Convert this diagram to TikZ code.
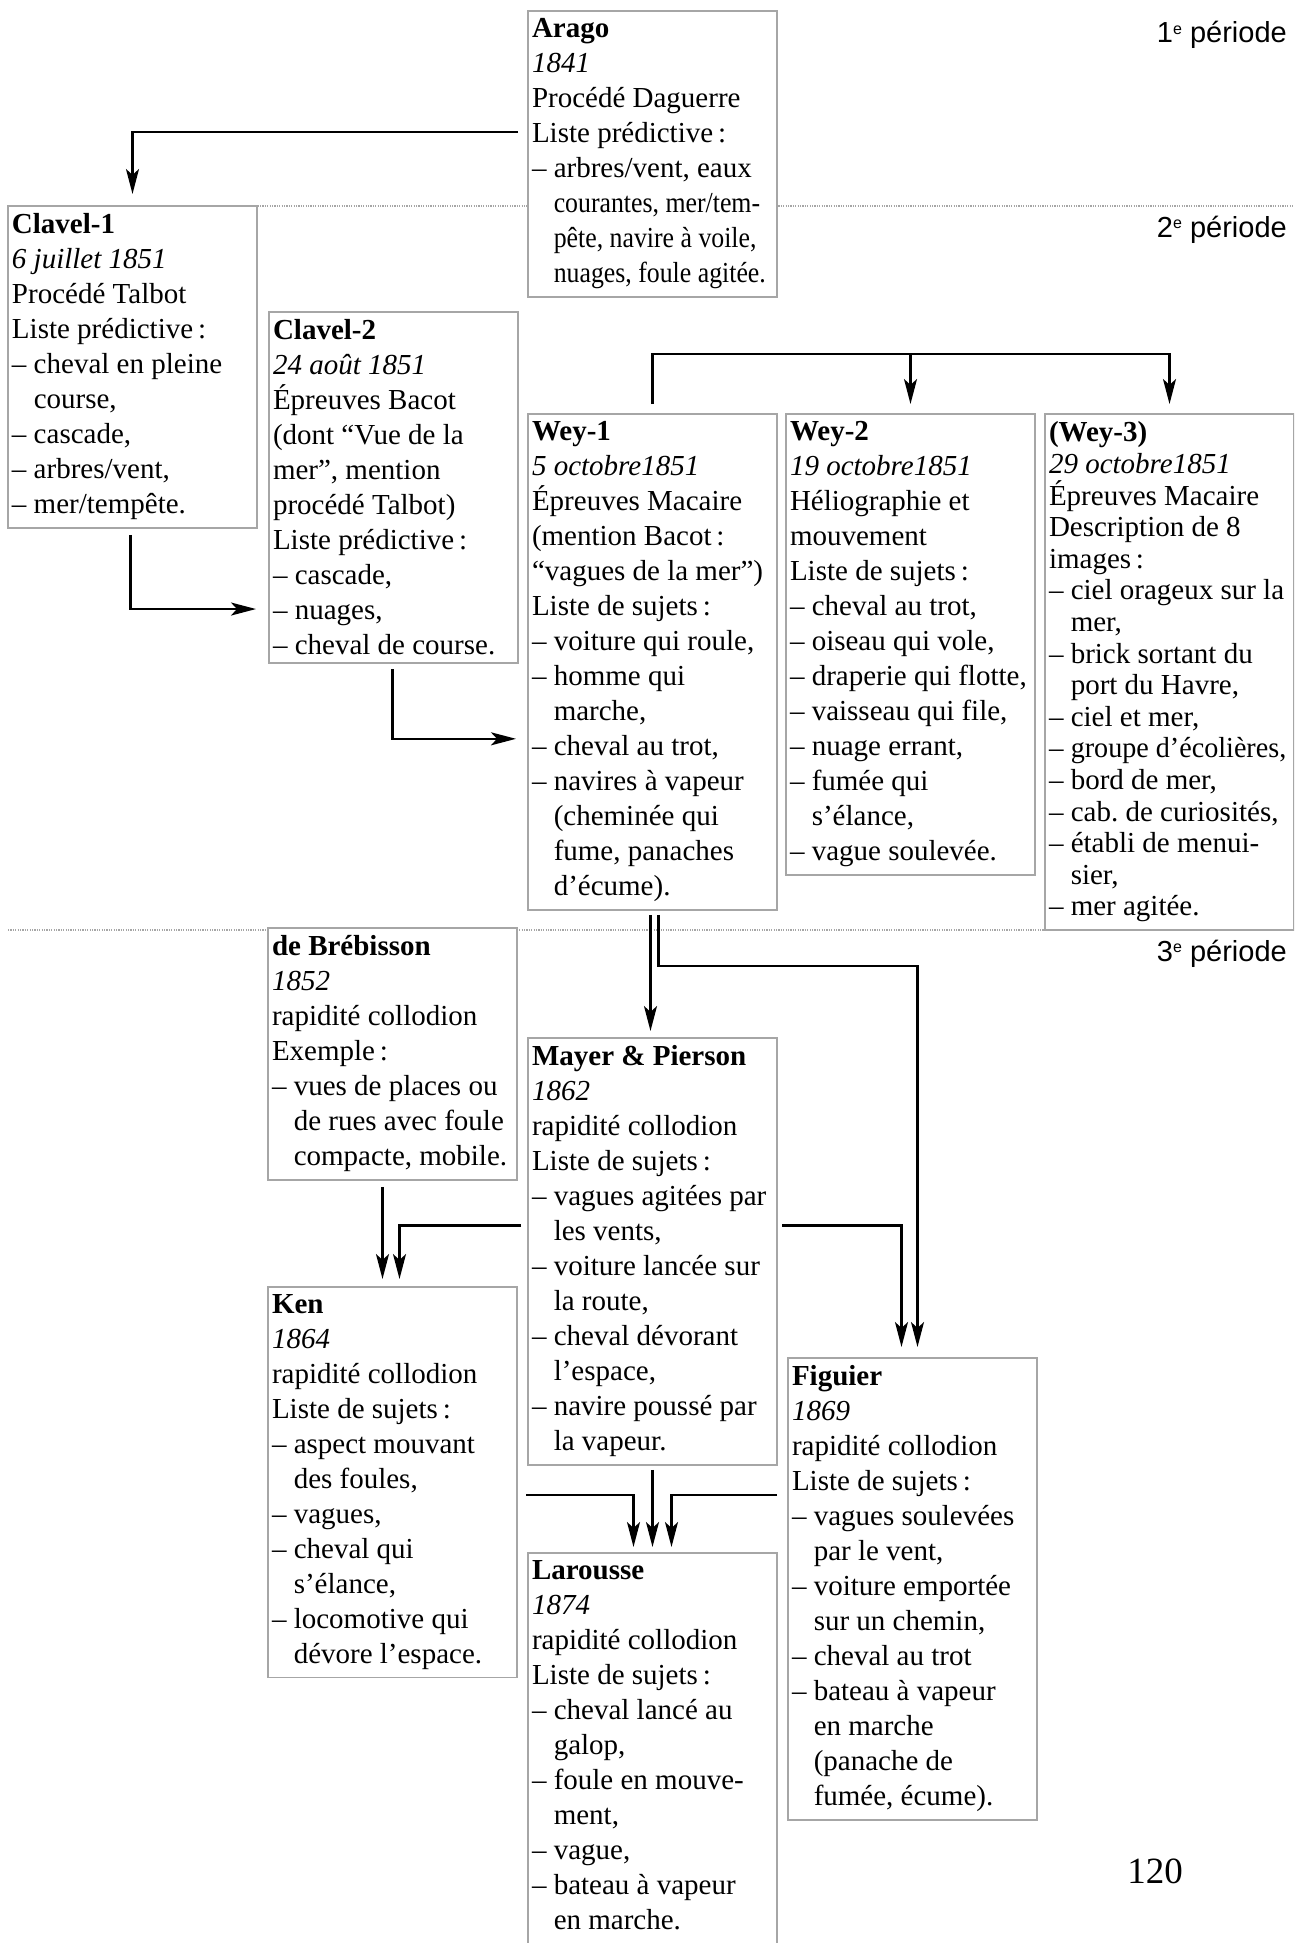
\documentclass[tikz,border=0pt]{standalone}
\usepackage{fontspec}
\setmainfont{Liberation Serif}
\newfontfamily\periodefont{Liberation Sans}
\usepackage{graphicx}
\usepackage{tikz}
\usetikzlibrary{arrows.meta,calc}
\tikzset{
	fiche/.style={
			draw=gray!70, line width=1.5pt, fill=white,
			anchor=north west, outer sep=0pt,
			inner xsep=4pt, inner ysep=7.75pt,
			text width=241pt, align=left,
			font=\fontsize{29}{35}\selectfont,
			execute at begin node={\spaceskip=0pt\xspaceskip=0pt\frenchspacing}
		},
	lien/.style={
			line width=2.3pt,
			-{Stealth[length=25pt,width=13pt,inset=6pt]}
		},
	periode/.style={draw=gray!70, line width=1.2pt, dash pattern=on 1.2pt off 1.2pt},
	etiquette/.style={anchor=base east, inner sep=0pt, font=\periodefont\fontsize{29}{35}\selectfont}
}
\newcommand{\ti}{\hphantom{– }}
\newcommand{\serre}[1]{\scalebox{0.89}[1]{#1}}
\newcommand{\expo}[1]{\raisebox{9pt}{\fontsize{16}{16}\selectfont #1}}

\begin{document}
\begin{tikzpicture}[x=1pt, y=-1pt]
	\useasboundingbox (0,0) rectangle (1294,1943);
	\clip (0,0) rectangle (1294,1943);
	\fill [white] (0,0) rectangle (1294,1943);

	\draw [periode] (8,206) -- (1294,206);
	\draw [periode] (8,930) -- (1294,930);
	\node [etiquette] (periodeA) at (1287,43) {1\expo{e} période};
	\node [etiquette] (periodeB) at (1287,237) {2\expo{e} période};
	\node [etiquette] (periodeC) at (1287,961) {3\expo{e} période};

	\node [fiche] (arago) at (528,11) {\textbf{Arago}\\
		\textit{1841}\\
		Procédé Daguerre\\
		Liste prédictive\,:\\
		– arbres/vent, eaux\\
		\ti\serre{courantes, mer/tem-}\\
		\ti\serre{pête, navire à voile,}\\
		\ti\serre{nuages, foule agitée.}};
	\node [fiche] (clavelA) at (8,206) {\textbf{Clavel-1}\\
		\textit{6 juillet 1851}\\
		Procédé Talbot\\
		Liste prédictive\,:\\
		– cheval en pleine\\
		\ti course,\\
		– cascade,\\
		– arbres/vent,\\
		– mer/tempête.};
	\node [fiche] (clavelB) at (269,312) {\textbf{Clavel-2}\\
		\textit{24 août 1851}\\
		Épreuves Bacot\\
		(dont “Vue de la\\
		mer”, mention\\
		procédé Talbot)\\
		Liste prédictive\,:\\
		– cascade,\\
		– nuages,\\
		– cheval de course.};
	\node [fiche] (weyA) at (528,414) {\textbf{Wey-1}\\
		\textit{5 octobre1851}\\
		Épreuves Macaire\\
		(mention Bacot\,:\\
		“vagues de la mer”)\\
		Liste de sujets\,:\\
		– voiture qui roule,\\
		– homme qui\\
		\ti marche,\\
		– cheval au trot,\\
		– navires à vapeur\\
		\ti (cheminée qui\\
		\ti fume, panaches\\
		\ti d’écume).};
	\node [fiche] (weyB) at (786,414) {\textbf{Wey-2}\\
		\textit{19 octobre1851}\\
		Héliographie et\\
		mouvement\\
		Liste de sujets\,:\\
		– cheval au trot,\\
		– oiseau qui vole,\\
		– draperie qui flotte,\\
		– vaisseau qui file,\\
		– nuage errant,\\
		– fumée qui\\
		\ti s’élance,\\
		– vague soulevée.};
	\node [fiche, font=\fontsize{29}{31.6}\selectfont] (weyC) at (1045,414) {\textbf{(Wey-3)}\\
		\textit{29 octobre1851}\\
		Épreuves Macaire\\
		Description de 8\\
		images\,:\\
		– ciel orageux sur la\\
		\ti mer,\\
		– brick sortant du\\
		\ti port du Havre,\\
		– ciel et mer,\\
		– \scalebox{0.97}[1]{groupe d’écolières,}\\
		– bord de mer,\\
		– cab. de curiosités,\\
		– établi de menui-\\
		\ti sier,\\
		– mer agitée.};
	\node [fiche] (brebisson) at (268,928) {\textbf{de Brébisson}\\
		\textit{1852}\\
		rapidité collodion\\
		Exemple\,:\\
		– vues de places ou\\
		\ti de rues avec foule\\
		\ti compacte, mobile.};
	\node [fiche] (mayer) at (528,1038) {\textbf{Mayer \& Pierson}\\
		\textit{1862}\\
		rapidité collodion\\
		Liste de sujets\,:\\
		– vagues agitées par\\
		\ti les vents,\\
		– voiture lancée sur\\
		\ti la route,\\
		– cheval dévorant\\
		\ti l’espace,\\
		– navire poussé par\\
		\ti la vapeur.};
	\node [fiche] (ken) at (268,1287) {\textbf{Ken}\\
		\textit{1864}\\
		rapidité collodion\\
		Liste de sujets\,:\\
		– aspect mouvant\\
		\ti des foules,\\
		– vagues,\\
		– cheval qui\\
		\ti s’élance,\\
		– locomotive qui\\
		\ti dévore l’espace.};
	\node [fiche] (figuier) at (788,1358) {\textbf{Figuier}\\
		\textit{1869}\\
		rapidité collodion\\
		Liste de sujets\,:\\
		– vagues soulevées\\
		\ti par le vent,\\
		– voiture emportée\\
		\ti sur un chemin,\\
		– cheval au trot\\
		– bateau à vapeur\\
		\ti en marche\\
		\ti (panache de\\
		\ti fumée, écume).};
	\node [fiche] (larousse) at (528,1553) {\textbf{Larousse}\\
		\textit{1874}\\
		rapidité collodion\\
		Liste de sujets\,:\\
		– cheval lancé au\\
		\ti galop,\\
		– foule en mouve-\\
		\ti ment,\\
		– vague,\\
		– bateau à vapeur\\
		\ti en marche.\rule[-30pt]{0pt}{30pt}};
	\node [anchor=base, inner sep=0pt, font=\fontsize{37}{40}\selectfont] (folio) at (1155,1883) {120};

	\draw [lien, shorten <=10pt, shorten >=12pt] ([yshift=22pt]arago.west) -| (clavelA.north);
	\draw [lien, shorten <=7pt, shorten >=13pt] ([xshift=-2pt]clavelA.south) |- ([yshift=54pt]clavelB.south west);
	\draw [lien, shorten <=6pt, shorten >=12pt] ([xshift=-1pt]clavelB.south) |- ([yshift=171pt]weyA.south west);
	\coordinate (fourche) at ([yshift=60pt]weyA.north);
	\draw [lien, shorten <=10pt, shorten >=10pt] (weyA.north) -- (fourche) -| (weyC.north);
	\draw [lien, shorten >=10pt] (fourche -| weyB.north) -- (weyB.north);
	\draw [lien, shorten <=5pt, shorten >=7pt] ([xshift=-2pt]weyA.south) -- ([xshift=-2pt]mayer.north);
	\draw [lien, shorten <=5pt, shorten >=11pt] ([xshift=6pt]weyA.south) -- ([xshift=6pt,yshift=-56pt]weyA.south) -| ([xshift=5pt]figuier.north);
	\draw [lien, shorten <=5pt, shorten >=11pt] ([yshift=26pt]mayer.east) -| ([xshift=-11pt]figuier.north);
	\draw [lien, shorten <=7pt, shorten >=8pt] ([yshift=26pt]mayer.west) -| ([xshift=7pt]ken.north);
	\draw [lien, shorten <=7pt, shorten >=8pt] ([xshift=-10pt]brebisson.south) -- ([xshift=-10pt]ken.north);
	\coordinate (nappe) at ([yshift=-30pt]mayer.south);
	\draw [lien, shorten <=5pt, shorten >=6pt] (mayer.south) -- (larousse.north);
	\draw [lien, shorten <=9pt, shorten >=6pt] (ken.east |- nappe) -| ([xshift=-19pt]larousse.north);
	\draw [lien, shorten <=11pt, shorten >=6pt] (figuier.west |- nappe) -| ([xshift=19pt]larousse.north);
\end{tikzpicture}
\end{document}
